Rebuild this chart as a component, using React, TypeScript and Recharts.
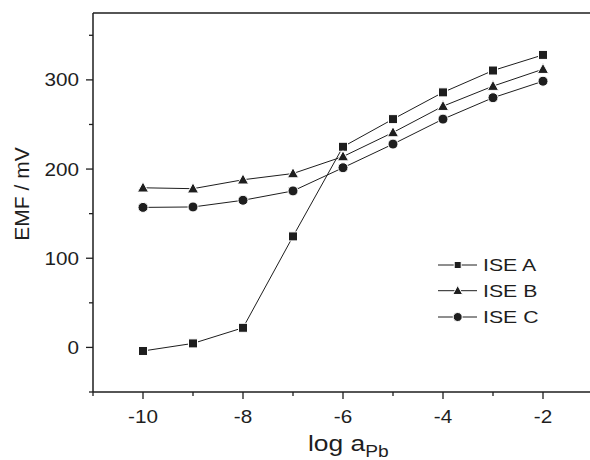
import React from "react";
import { LineChart, Line, XAxis, YAxis, Legend, ReferenceLine } from "recharts";

const logA = [-10, -9, -8, -7, -6, -5, -4, -3, -2];
const iseA = [-4, 4.5, 22, 124.5, 225, 256, 286, 310.5, 328];
const iseB = [179, 178, 188, 195, 214, 241, 270.5, 293, 312];
const iseC = [157, 157.5, 165, 175.5, 201.5, 228, 256, 280, 298.5];
const xTicks = [-11, -10, -9, -8, -7, -6, -5, -4, -3, -2, -1];
const yTicks = [-50, 0, 50, 100, 150, 200, 250, 300, 350];

const data = logA.map((x, i) => ({ x, a: iseA[i], b: iseB[i], c: iseC[i] }));

const INK = "#1e1e1e";
const FONT = "'Liberation Sans', Arial, sans-serif";

type Shape = "square" | "triangle" | "circle";

function marker(shape: Shape, cx: number, cy: number, s: number, key?: string) {
  if (shape === "square")
    return <rect key={key} x={cx - s / 2} y={cy - s / 2} width={s} height={s} fill={INK} stroke="#fff" strokeWidth={1} />;
  if (shape === "triangle") {
    const h = s * 1.05;
    return (
      <path
        key={key}
        d={`M${cx},${cy - h * 0.62} L${cx + s * 0.62},${cy + h * 0.45} L${cx - s * 0.62},${cy + h * 0.45} Z`}
        fill={INK}
        stroke="#fff"
        strokeWidth={1}
      />
    );
  }
  return <circle key={key} cx={cx} cy={cy} r={s / 2 + 0.5} fill={INK} stroke="#fff" strokeWidth={1} />;
}

const dotFor = (shape: Shape) => (p: any) => marker(shape, p.cx, p.cy, 9, `${shape}-${p.index}`);

// wide-looking text, as in the source figure
function Wide({ x, y, size, sx, anchor, dy, children }: any) {
  return (
    <text
      transform={`translate(${x},${y}) scale(${sx},1)`}
      dy={dy}
      textAnchor={anchor}
      fontSize={size}
      fontFamily={FONT}
      fill={INK}
    >
      {children}
    </text>
  );
}

const XTick = (p: any) => {
  const v = p.payload.value;
  const major = v % 2 === 0;
  return (
    <g>
      <line x1={p.x} x2={p.x} y1={p.y} y2={p.y + (major ? 7 : 4)} stroke={INK} strokeWidth={1.3} />
      {major && (
        <Wide x={p.x} y={p.y + 31} size={18} sx={1.15} anchor="middle">
          {v}
        </Wide>
      )}
    </g>
  );
};

const YTick = (p: any) => {
  const v = p.payload.value;
  const major = v % 100 === 0;
  return (
    <g>
      <line x1={p.x} x2={p.x - (major ? 7 : 4)} y1={p.y} y2={p.y} stroke={INK} strokeWidth={1.3} />
      {major && (
        <Wide x={p.x - 14} y={p.y} dy="0.36em" size={18} sx={1.15} anchor="end">
          {v}
        </Wide>
      )}
    </g>
  );
};

const legendRows: { name: string; shape: Shape; y: number }[] = [
  { name: "ISE A", shape: "square", y: 15 },
  { name: "ISE B", shape: "triangle", y: 40.7 },
  { name: "ISE C", shape: "circle", y: 67 },
];

const LegendBox = () => (
  <svg width={150} height={84}>
    {legendRows.map((r) => (
      <g key={r.name}>
        <line x1={8} x2={47} y1={r.y} y2={r.y} stroke={INK} strokeWidth={1} />
        {marker(r.shape, 27.7, r.y, r.shape === "square" ? 7 : 8)}
        <Wide x={53} y={r.y} dy="0.36em" size={17} sx={1.25} anchor="start">
          {r.name}
        </Wide>
      </g>
    ))}
  </svg>
);

export default function App() {
  return (
    <div style={{ position: "absolute", left: 0, top: 0, width: 590, height: 460, overflow: "hidden", background: "#fff" }}>
      <LineChart width={600} height={460} data={data} margin={{ top: 13, right: 7, bottom: 0, left: 13 }}>
        <XAxis
          dataKey="x"
          type="number"
          domain={[-11, -1]}
          ticks={xTicks}
          interval={0}
          tickSize={0}
          tickMargin={0}
          tick={<XTick />}
          height={68}
          axisLine={{ stroke: INK, strokeWidth: 1.5 }}
          label={{
            content: () => (
              <Wide x={308} y={451} size={22} sx={1.2} anchor="start">
                <tspan>log a</tspan>
                <tspan dy={6} fontSize={16}>Pb</tspan>
              </Wide>
            ),
          }}
        />
        <YAxis
          type="number"
          domain={[-50, 375]}
          ticks={yTicks}
          interval={0}
          tickSize={0}
          tickMargin={0}
          tick={<YTick />}
          width={80}
          axisLine={{ stroke: INK, strokeWidth: 1.5 }}
          label={{
            content: () => (
              <text
                x={21}
                y={194}
                transform="rotate(-90 21 194)"
                dy="0.36em"
                textAnchor="middle"
                fontSize={21}
                fontFamily={FONT}
                fill={INK}
              >
                EMF / mV
              </text>
            ),
          }}
        />
        <ReferenceLine y={375} stroke={INK} strokeWidth={1.5} />
        <ReferenceLine x={-1} stroke={INK} strokeWidth={1.5} />
        <Legend
          layout="horizontal"
          align="center"
          verticalAlign="middle"
          content={<LegendBox />}
          wrapperStyle={{ position: "absolute", left: 430, top: 250, width: 150 }}
        />
        <Line dataKey="a" name="ISE A" stroke={INK} strokeWidth={1} dot={dotFor("square")} isAnimationActive={false} />
        <Line dataKey="b" name="ISE B" stroke={INK} strokeWidth={1} dot={dotFor("triangle")} isAnimationActive={false} />
        <Line dataKey="c" name="ISE C" stroke={INK} strokeWidth={1} dot={dotFor("circle")} isAnimationActive={false} />
      </LineChart>
    </div>
  );
}
